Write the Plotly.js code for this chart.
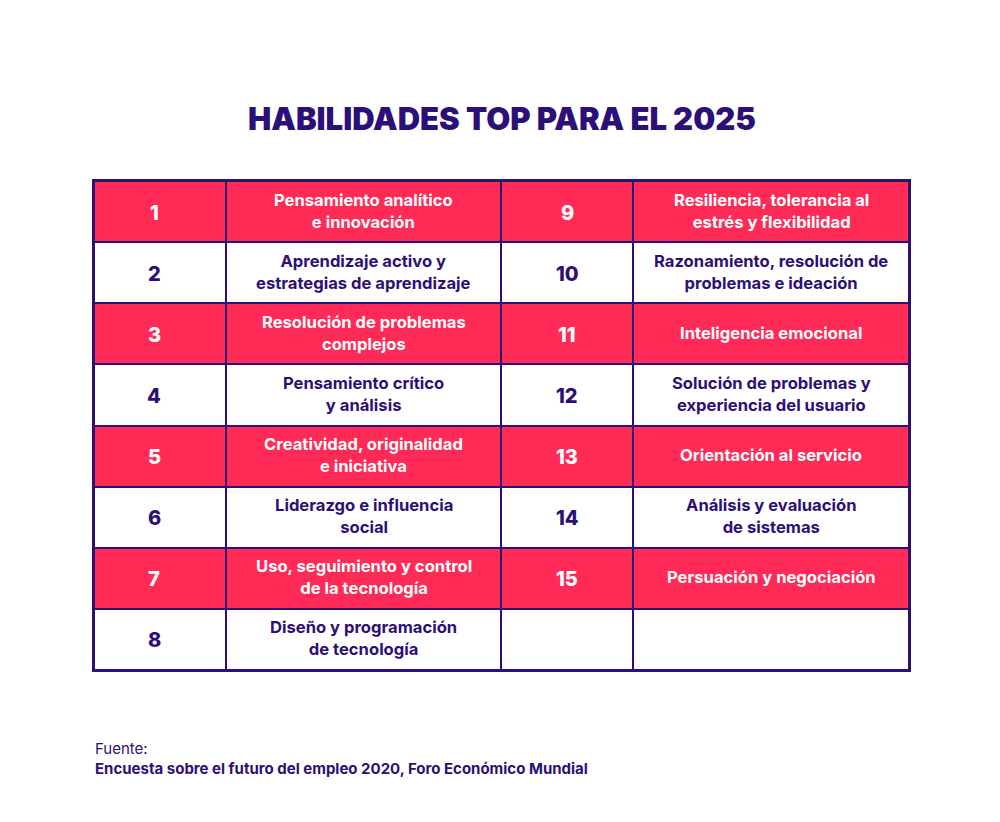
<!DOCTYPE html>
<html>
<head>
<meta charset="utf-8">
<script src="https://cdn.plot.ly/plotly-3.0.1.min.js"></script>
<style>
  html, body { margin: 0; padding: 0; background: #ffffff; }
  #chart { width: 1000px; height: 822px; }
</style>
</head>
<body>
<div id="chart"></div>
<script>
// ranking of skills, left block 1-8, right block 9-15
const leftRanks = ['1', '2', '3', '4', '5', '6', '7', '8'];
const leftSkills = [
  'Pensamiento analítico<br>e innovación',
  'Aprendizaje activo y<br>estrategias de aprendizaje',
  'Resolución de problemas<br>complejos',
  'Pensamiento crítico<br>y análisis',
  'Creatividad, originalidad<br>e iniciativa',
  'Liderazgo e influencia<br>social',
  'Uso, seguimiento y control<br>de la tecnología',
  'Diseño y programación<br>de tecnología'
];
const rightRanks = ['9', '10', '11', '12', '13', '14', '15', ''];
const rightSkills = [
  'Resiliencia, tolerancia al<br>estrés y flexibilidad',
  'Razonamiento, resolución de<br>problemas e ideación',
  'Inteligencia emocional',
  'Solución de problemas y<br>experiencia del usuario',
  'Orientación al servicio',
  'Análisis y evaluación<br>de sistemas',
  'Persuación y negociación',
  ''
];

const RED = '#ff2b56';
const PURPLE = '#2c0f78';
const FONT = 'Inter, "Open Sans", sans-serif';

// column edges (widths of the four columns)
const colEdges = [0, 132, 407, 539, 815];
const rowEdges = [0, 1, 2, 3, 4, 5, 6, 7, 8];
const nRows = leftRanks.length;

// band: 0 = red row, 1 = white row
const z = [];
for (let r = 0; r < nRows; r++) {
  const v = r % 2;
  z.push([v, v, v, v]);
}

const columns = [leftRanks, leftSkills, rightRanks, rightSkills];
const annotations = [];
columns.forEach((col, c) => {
  const cx = (colEdges[c] + colEdges[c + 1]) / 2;
  const isRank = c % 2 === 0;
  col.forEach((txt, r) => {
    if (!txt) return;
    annotations.push({
      x: cx, y: r + 0.5, xref: 'x', yref: 'y',
      text: txt, showarrow: false,
      xshift: c === 0 ? -6 : 0,
      yshift: isRank ? -1 : 1,
      align: 'center',
      font: {
        family: FONT,
        size: isRank ? 20 : 16.6,
        weight: isRank ? 800 : 700,
        color: r % 2 === 0 ? '#ffffff' : PURPLE
      }
    });
  });
});

annotations.push({
  xref: 'paper', yref: 'paper', x: 0.5, y: 1, yshift: 63,
  xanchor: 'center', yanchor: 'middle', showarrow: false,
  text: 'HABILIDADES TOP PARA EL 2025',
  font: { family: FONT, size: 31, weight: 900, color: PURPLE }
});
annotations.push({
  xref: 'paper', yref: 'paper', x: 0, y: 0, xshift: -1, yshift: -78,
  xanchor: 'left', yanchor: 'middle', showarrow: false,
  text: 'Fuente:',
  font: { family: FONT, size: 15, weight: 400, color: PURPLE }
});
annotations.push({
  xref: 'paper', yref: 'paper', x: 0, y: 0, xshift: -1, yshift: -98,
  xanchor: 'left', yanchor: 'middle', showarrow: false,
  text: 'Encuesta sobre el futuro del empleo 2020, Foro Económico Mundial',
  font: { family: FONT, size: 15, weight: 700, color: PURPLE }
});

const trace = {
  type: 'heatmap',
  x: colEdges,
  y: rowEdges,
  z: z,
  zmin: 0, zmax: 1,
  colorscale: [[0, RED], [1, '#ffffff']],
  showscale: false,
  xgap: 2, ygap: 2,
  hoverinfo: 'skip'
};

const layout = {
  width: 1000, height: 822,
  margin: { l: 94, r: 91, t: 181, b: 152 },
  paper_bgcolor: '#ffffff',
  plot_bgcolor: PURPLE,
  showlegend: false,
  xaxis: {
    range: [0, 815], showgrid: false, zeroline: false, showticklabels: false,
    ticks: '', showline: true, mirror: true, linecolor: PURPLE, linewidth: 2, fixedrange: true
  },
  yaxis: {
    range: [8, 0], showgrid: false, zeroline: false, showticklabels: false,
    ticks: '', showline: true, mirror: true, linecolor: PURPLE, linewidth: 2, fixedrange: true
  },
  annotations: annotations
};

Plotly.newPlot('chart', [trace], layout, { displayModeBar: false, staticPlot: true });
</script>
</body>
</html>
